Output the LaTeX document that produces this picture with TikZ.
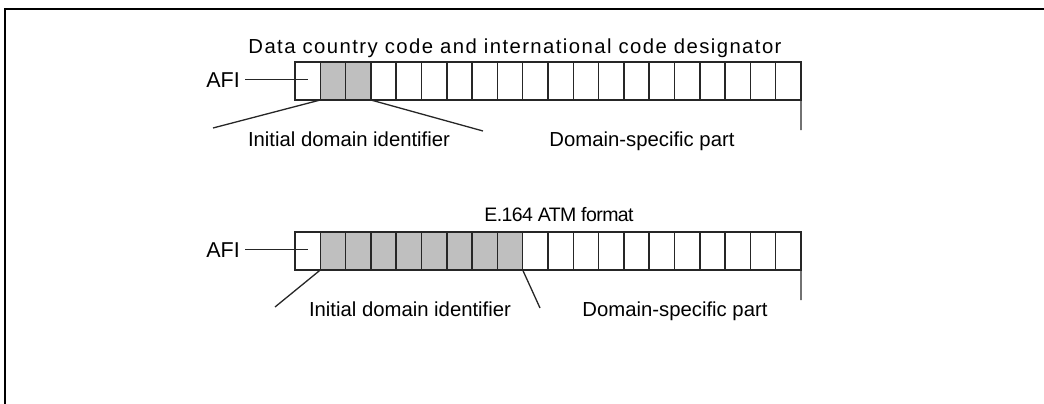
\documentclass[tikz,border=0pt]{standalone}
\usepackage{fontspec}
\setmainfont{Liberation Sans}
\tikzset{
  cell/.style={draw=black!85,line width=1.5pt,minimum width=25.3pt,minimum height=38pt,inner sep=0pt,outer sep=0pt,anchor=north west},
  idcell/.style={cell,fill=black!25},
  lbl/.style={font=\fontsize{20.3}{24}\selectfont,inner sep=0pt,anchor=base},
  lead/.style={black!85,line width=1.3pt}
}
\begin{document}
\begin{tikzpicture}[x=1pt,y=-1pt]
	\useasboundingbox (0,0) rectangle (1044,404);
	\draw[line width=2pt] (5,404) -- (5,9) -- (1044,9);
	% upper address
	\node[cell] (u0) at (295,62) {};
	\foreach \i in {1,2} \node[idcell] (u\i) at (295+25.3*\i,62) {};
	\foreach \i in {3,...,19} \node[cell] (u\i) at (295+25.3*\i,62) {};
	\node[lbl,font=\fontsize{20.3}{24}\selectfont\addfontfeature{LetterSpace=7}] (dcc) at (515,54) {Data country code and international code designator};
	\node[lbl,anchor=base east,font=\fontsize{21.5}{24}\selectfont] (afiu) at (240,87) {AFI};
	\draw[lead,shorten <=5pt] (afiu.east) -- (afiu.east -| u0.center);
	\coordinate (uidl) at (213,128);
	\coordinate (uidr) at (483,131);
	\coordinate (udspr) at (801,130);
	\draw[lead] (u1.south west) -- (uidl);
	\draw[lead] (u2.south east) -- (uidr);
	\draw[lead] (u19.south east) -- (udspr);
	\node[lbl] (uid) at (349,146) {Initial domain identifier};
	\node[lbl] (udsp) at (642,146) {Domain-specific part};
	% lower address
	\node[cell] (l0) at (295,232) {};
	\foreach \i in {1,...,8} \node[idcell] (l\i) at (295+25.3*\i,232) {};
	\foreach \i in {9,...,19} \node[cell] (l\i) at (295+25.3*\i,232) {};
	\node[lbl,font=\fontsize{19.5}{22}\selectfont\addfontfeature{LetterSpace=-3}] (e164) at (559,221) {E.164 ATM format};
	\node[lbl,anchor=base east,font=\fontsize{21.5}{24}\selectfont] (afil) at (240,257) {AFI};
	\draw[lead,shorten <=5pt] (afil.east) -- (afil.east -| l0.center);
	\coordinate (lidl) at (275,307);
	\coordinate (lidr) at (540,308);
	\coordinate (ldspr) at (801,300);
	\draw[lead] (l1.south west) -- (lidl);
	\draw[lead] (l8.south east) -- (lidr);
	\draw[lead] (l19.south east) -- (ldspr);
	\node[lbl] (lid) at (410,316) {Initial domain identifier};
	\node[lbl] (ldsp) at (675,316) {Domain-specific part};
\end{tikzpicture}
\end{document}
